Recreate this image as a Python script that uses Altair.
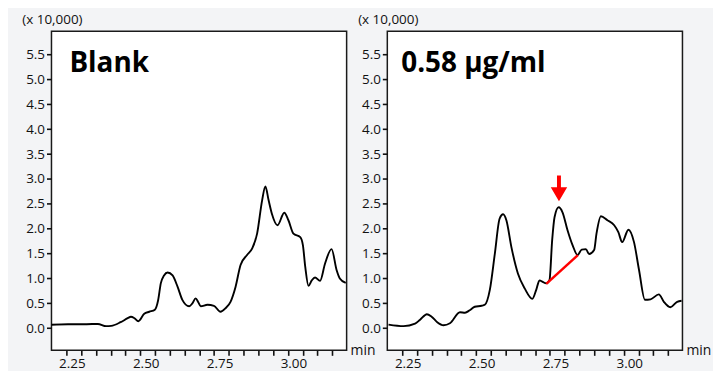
import altair as alt
import pandas as pd

# ---------------- data ----------------
blank_time = [2.181, 2.237, 2.300, 2.338, 2.366, 2.383, 2.415, 2.439, 2.450, 2.462,
              2.475, 2.495, 2.512, 2.531, 2.542, 2.551, 2.562, 2.574, 2.591, 2.608,
              2.624, 2.647, 2.658, 2.669, 2.678, 2.686, 2.709, 2.731, 2.753, 2.770,
              2.787, 2.804, 2.821, 2.843, 2.860, 2.877, 2.894, 2.905, 2.916, 2.927,
              2.946, 2.969, 2.983, 3.000, 3.023, 3.032, 3.040, 3.051, 3.062, 3.073,
              3.090, 3.107, 3.129, 3.146, 3.157, 3.177]
blank_signal = [0.07, 0.08, 0.08, 0.085, 0.04, 0.045, 0.12, 0.20, 0.23, 0.20,
                0.14, 0.29, 0.33, 0.37, 0.56, 0.90, 1.06, 1.12, 1.06, 0.83,
                0.57, 0.44, 0.50, 0.60, 0.52, 0.44, 0.47, 0.45, 0.33, 0.40,
                0.53, 0.83, 1.27, 1.47, 1.60, 1.90, 2.57, 2.85, 2.57, 2.30,
                2.07, 2.32, 2.17, 1.90, 1.83, 1.67, 1.23, 0.85, 0.96, 1.02,
                0.95, 1.30, 1.59, 1.17, 1.00, 0.91]

sample_time = [2.185, 2.236, 2.275, 2.292, 2.315, 2.331, 2.350, 2.371, 2.393, 2.427,
               2.444, 2.460, 2.477, 2.500, 2.511, 2.528, 2.545, 2.561, 2.573, 2.584,
               2.601, 2.623, 2.646, 2.672, 2.685, 2.696, 2.707, 2.719, 2.730, 2.739,
               2.747, 2.761, 2.774, 2.791, 2.808, 2.825, 2.839, 2.853, 2.864, 2.881,
               2.889, 2.904, 2.926, 2.949, 2.963, 2.976, 2.997, 3.016, 3.033, 3.053,
               3.072, 3.100, 3.117, 3.139, 3.162, 3.177]
sample_signal = [0.07, 0.04, 0.09, 0.17, 0.28, 0.23, 0.12, 0.06, 0.10, 0.32,
                 0.31, 0.36, 0.43, 0.45, 0.47, 0.77, 1.50, 2.20, 2.29, 2.17,
                 1.63, 1.10, 0.80, 0.59, 0.77, 0.96, 0.93, 0.90, 0.97, 1.77,
                 2.23, 2.43, 2.33, 1.97, 1.67, 1.47, 1.58, 1.59, 1.49, 1.57,
                 1.90, 2.25, 2.17, 2.07, 1.93, 1.73, 1.98, 1.73, 1.17, 0.57,
                 0.58, 0.68, 0.53, 0.42, 0.53, 0.55]

baseline_time = [2.719, 2.826]
baseline_signal = [0.89, 1.47]

arrow_time = [2.762]
arrow_signal = [2.81]

panel_titles = ["Blank", "0.58 μg/ml"]
x_tick_values = [2.25, 2.30, 2.35, 2.40, 2.45, 2.50, 2.55, 2.60, 2.65, 2.70,
                 2.75, 2.80, 2.85, 2.90, 2.95, 3.00, 3.05, 3.10, 3.15]
y_tick_values = [0.0, 0.5, 1.0, 1.5, 2.0, 2.5, 3.0, 3.5, 4.0, 4.5, 5.0, 5.5]
x_domain = [2.181, 3.180]
y_domain = [-0.446, 5.968]
y_unit_label = "(x 10,000)"
x_unit_label = "min"

FONT = "Open Sans"
W, H = 296.7, 320.7

x_enc = alt.X(
    "t:Q",
    scale=alt.Scale(domain=x_domain, nice=False, zero=False),
    axis=alt.Axis(
        values=x_tick_values,
        labelExpr="abs(datum.value*4 - round(datum.value*4)) < 0.001 ? format(datum.value, '.2f') : ''",
        tickOffset=-5.5, labelOffset=5.5, tickSize=5, tickWidth=1.6, tickColor="#111",
        domain=False, grid=False, title=None, labelFont=FONT, labelFontSize=13.5,
        labelColor="#111", labelPadding=1, labelOverlap=False, labelFlush=False,
        labelBound=False,
    ),
)
y_enc = alt.Y(
    "v:Q",
    scale=alt.Scale(domain=y_domain, nice=False, zero=False),
    axis=alt.Axis(
        values=y_tick_values, format=".1f", tickSize=5, tickWidth=1.6, tickColor="#111",
        domain=False, grid=False, title=None, labelFont=FONT, labelFontSize=13.5,
        labelColor="#111", labelPadding=2, labelOverlap=False, labelFlush=False,
    ),
)


def panel(times, signals, title, title_dx, extras=()):
    df = pd.DataFrame({"t": times, "v": signals})
    line = alt.Chart(df).mark_line(
        color="#000", strokeWidth=1.9, interpolate="monotone"
    ).encode(x=x_enc, y=y_enc)
    ttl = alt.Chart(pd.DataFrame({"s": [title]})).mark_text(
        font=FONT, fontSize=28, fontWeight="bold", align="left",
        baseline="alphabetic", color="#000"
    ).encode(x=alt.value(title_dx), y=alt.value(40.7), text="s:N")
    yunit = alt.Chart(pd.DataFrame({"s": [y_unit_label]})).mark_text(
        font=FONT, fontSize=13.5, align="left", baseline="middle", color="#111"
    ).encode(x=alt.value(-29.3), y=alt.value(-11.8), text="s:N")
    xunit = alt.Chart(pd.DataFrame({"s": [x_unit_label]})).mark_text(
        font=FONT, fontSize=14, align="left", baseline="middle", color="#111"
    ).encode(x=alt.value(W + 4), y=alt.value(H + 1), text="s:N")
    return alt.layer(line, *extras, ttl, yunit, xunit).properties(width=W, height=H)


red_df = pd.DataFrame({"t": baseline_time, "v": baseline_signal})
red_line = alt.Chart(red_df).mark_line(color="#ff0000", strokeWidth=2.5).encode(
    x=x_enc, y=y_enc
)
arrow_path = ("M -0.14 -0.917 L 0.14 -0.917 L 0.14 -0.083 L 0.583 -0.083 "
              "L 0 0.917 L -0.583 -0.083 L -0.14 -0.083 Z")
arrow = alt.Chart(pd.DataFrame({"t": arrow_time, "v": arrow_signal})).mark_point(
    shape=arrow_path, filled=True, color="#ff0000", size=800, opacity=1, strokeWidth=0
).encode(x=x_enc, y=y_enc)

left = panel(blank_time, blank_signal, panel_titles[0], 18)
right = panel(sample_time, sample_signal, panel_titles[1], 14, extras=(red_line, arrow))

chart = alt.hconcat(left, right, spacing=40.6, bounds="flush").properties(
    padding={"left": 12.7, "top": 2.5, "right": 0, "bottom": 0},
    background="#f3f4f6",
).configure_view(stroke="#1a1a1a", strokeWidth=1.5, fill="white")

chart.save("out.html", embed_options={"renderer": "svg", "actions": False})
